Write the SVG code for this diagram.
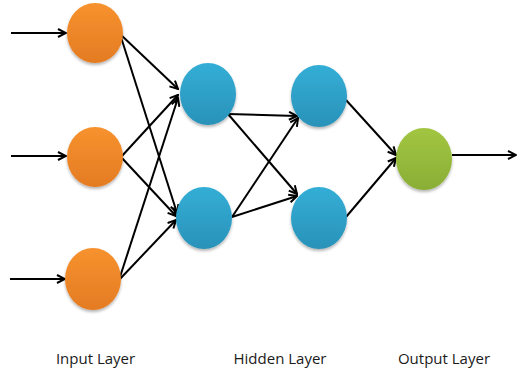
<svg xmlns="http://www.w3.org/2000/svg" width="517" height="370" viewBox="0 0 517 370">
  <defs>
    <linearGradient id="gOrange" x1="0" y1="0" x2="0" y2="1">
      <stop offset="0" stop-color="#F7922E"/>
      <stop offset="1" stop-color="#E47B23"/>
    </linearGradient>
    <linearGradient id="gBlue" x1="0" y1="0" x2="0" y2="1">
      <stop offset="0" stop-color="#33AED6"/>
      <stop offset="1" stop-color="#2A92B9"/>
    </linearGradient>
    <linearGradient id="gGreen" x1="0" y1="0" x2="0" y2="1">
      <stop offset="0" stop-color="#A2C641"/>
      <stop offset="1" stop-color="#8AAE35"/>
    </linearGradient>
    <filter id="shadow" x="-30%" y="-30%" width="160%" height="170%">
      <feGaussianBlur in="SourceAlpha" stdDeviation="1.6"/>
      <feOffset dx="0" dy="2" result="b"/>
      <feComponentTransfer><feFuncA type="linear" slope="0.3"/></feComponentTransfer>
      <feMerge><feMergeNode/><feMergeNode in="SourceGraphic"/></feMerge>
    </filter>
    <marker id="arrow" viewBox="0 0 10 10" refX="9" refY="5" markerWidth="10" markerHeight="10" markerUnits="userSpaceOnUse" orient="auto">
      <path d="M1,1 L9,5 L1,9" fill="none" stroke="#000" stroke-width="2"/>
    </marker>
  </defs>
  <style>
    .edge { stroke: #000; stroke-width: 2; fill: none; marker-end: url(#arrow); }
    .label { font-family: "Open Sans", "Liberation Sans", sans-serif; font-size: 15px; fill: #1a1a1a; text-anchor: middle; }
  </style>

  <!-- connectors -->
  <g id="connectors">
    <!-- inputs -->
    <line class="edge" x1="11" y1="33" x2="66" y2="33"/>
    <line class="edge" x1="11" y1="156" x2="66" y2="156"/>
    <line class="edge" x1="10" y1="279" x2="65" y2="279"/>
    <!-- input layer to hidden layer 1 -->
    <line class="edge" x1="120" y1="34" x2="178" y2="89"/>
    <line class="edge" x1="120" y1="34" x2="177" y2="213"/>
    <line class="edge" x1="121" y1="157" x2="178" y2="95"/>
    <line class="edge" x1="121" y1="157" x2="176" y2="216"/>
    <line class="edge" x1="119" y1="280" x2="178" y2="98"/>
    <line class="edge" x1="119" y1="280" x2="176" y2="220"/>
    <!-- hidden layer 1 to hidden layer 2 -->
    <line class="edge" x1="228" y1="114" x2="297" y2="116"/>
    <line class="edge" x1="228" y1="114" x2="297" y2="194"/>
    <line class="edge" x1="232" y1="217" x2="298" y2="118"/>
    <line class="edge" x1="232" y1="217" x2="297" y2="196"/>
    <!-- hidden layer 2 to output -->
    <line class="edge" x1="346" y1="100" x2="396" y2="155"/>
    <line class="edge" x1="346" y1="217" x2="396" y2="158"/>
    <!-- output -->
    <line class="edge" x1="452" y1="155" x2="516" y2="155"/>
  </g>

  <!-- input layer -->
  <g id="input1"><ellipse cx="95" cy="33" rx="28" ry="30" fill="url(#gOrange)" filter="url(#shadow)"/></g>
  <g id="input2"><ellipse cx="95" cy="157" rx="28" ry="30" fill="url(#gOrange)" filter="url(#shadow)"/></g>
  <g id="input3"><ellipse cx="93" cy="279" rx="28" ry="31" fill="url(#gOrange)" filter="url(#shadow)"/></g>

  <!-- hidden layer -->
  <g id="hidden1a"><ellipse cx="208" cy="94" rx="28" ry="31" fill="url(#gBlue)" filter="url(#shadow)"/></g>
  <g id="hidden1b"><ellipse cx="204" cy="218" rx="28" ry="31" fill="url(#gBlue)" filter="url(#shadow)"/></g>
  <g id="hidden2a"><ellipse cx="319" cy="96" rx="28" ry="31" fill="url(#gBlue)" filter="url(#shadow)"/></g>
  <g id="hidden2b"><ellipse cx="319" cy="218" rx="28" ry="31" fill="url(#gBlue)" filter="url(#shadow)"/></g>

  <!-- output layer -->
  <g id="output1"><ellipse cx="424" cy="159" rx="28" ry="31" fill="url(#gGreen)" filter="url(#shadow)"/></g>

  <!-- layer captions -->
  <g id="labels">
    <text class="label" x="95.5" y="364">Input Layer</text>
    <text class="label" x="280" y="364">Hidden Layer</text>
    <text class="label" x="444" y="364">Output Layer</text>
  </g>
</svg>
